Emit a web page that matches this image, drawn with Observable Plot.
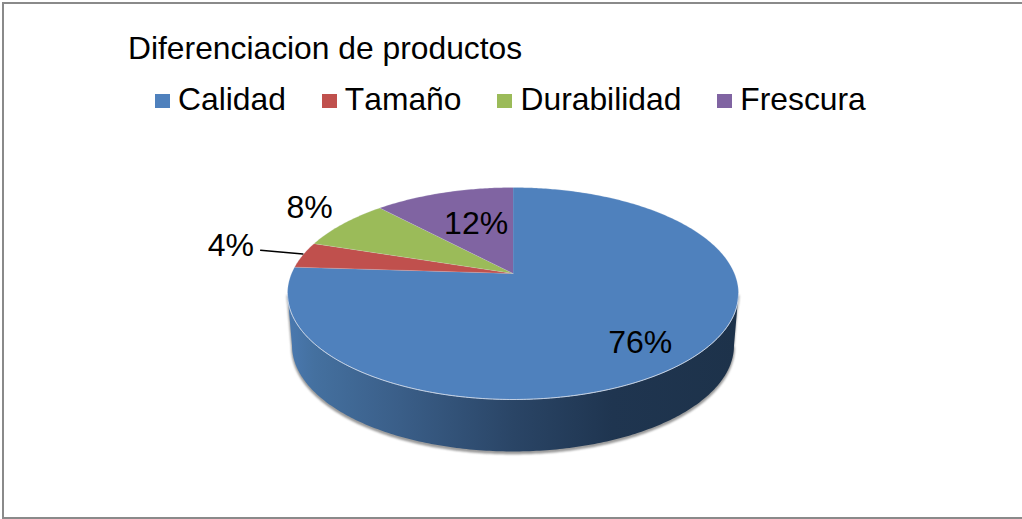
<!DOCTYPE html>
<html>
<head>
<meta charset="utf-8">
<script src="https://cdn.jsdelivr.net/npm/d3@7"></script>
<script src="https://cdn.jsdelivr.net/npm/@observablehq/plot@0.6"></script>
<style>
  html, body { margin: 0; padding: 0; background: #fff; overflow: hidden; }
  #chart { position: relative; width: 1022px; height: 519px; font-family: "Liberation Sans", Arial, sans-serif; color: #000; }
  #chart svg { position: absolute; left: 0; top: 0; }
  .title { position: absolute; left: 128px; top: 30px; font-size: 31.8px; line-height: 36px; white-space: nowrap; }
  .legend { position: absolute; left: 155px; top: 81px; display: flex; gap: 36px; font-size: 31.8px; line-height: 36px; white-space: nowrap; font-kerning: none; }
  .legend span { display: flex; align-items: center; }
  .legend i { display: block; width: 15px; height: 14px; margin-right: 8px; position: relative; top: 2px; }
  .edge { position: absolute; background: #8a8a8a; }
</style>
</head>
<body>
<div id="chart">
  <div class="edge" style="left:2px;top:2px;width:2px;height:517px"></div>
  <div class="edge" style="left:2px;top:2px;width:1020px;height:2px"></div>
  <div class="edge" style="left:2px;top:517px;width:1020px;height:2px"></div>
  <div class="title">Diferenciacion de productos</div>
  <div class="legend" id="legend"></div>
</div>
<script>
const titleText = "Diferenciacion de productos";
const categories = ["Calidad", "Tamaño", "Durabilidad", "Frescura"];
const shares = [76, 4, 8, 12];
const colors = ["#4f81bd", "#c0504d", "#9bbb59", "#8064a2"];

// Tilted-disc view: a unit circle seen in perspective, normalised so its outline spans [-1, 1] on both axes.
const tilt = -0.1887;
const widthFix = Math.sqrt(1 - tilt * tilt);
const thickness = 0.49;
const baseScale = 0.98;
const TAU = Math.PI * 2;

function disc(fraction, reach = 1) {
  const a = fraction * TAU;
  const u = reach * Math.sin(a);
  const t = -reach * Math.cos(a);
  const d = 1 + tilt * t;
  return {x: widthFix * u / d, y: (t + tilt) / d};
}
function arc(from, to, step = 0.002) {
  const n = Math.max(1, Math.ceil(Math.abs(to - from) / step));
  return d3.range(n + 1).map(i => from + (to - from) * i / n);
}
const base = f => { const p = disc(f); return {x: p.x * baseScale, y: p.y + thickness}; };

const total = d3.sum(shares);
const starts = d3.cumsum([0, ...shares]).map(v => v / total);
const wedges = categories.flatMap((category, i) => [
  {category, ...disc(0, 0)},
  ...arc(starts[i], starts[i + 1]).map(f => ({category, ...disc(f)}))
]);
const mid = i => (starts[i] + starts[i + 1]) / 2;

// The visible front of the wall runs between the two points where the rim is widest.
const rightTangent = Math.acos(tilt) / TAU;
const leftTangent = 1 - rightTangent;
const frontRim = arc(rightTangent, leftTangent).map(f => disc(f));
const wall = [...frontRim, ...arc(leftTangent, rightTangent).map(base)];

const pct = i => `${Math.round(shares[i] / total * 100)}%`;
const label = (i, reach, dx, dy) => {
  const p = disc(mid(i), reach);
  return Plot.text([{...p, t: pct(i)}], {
    x: "x", y: "y", text: "t", dx, dy,
    fontSize: 32, fill: "#000", textAnchor: "middle", lineAnchor: "middle"
  });
};
const leader = [1.21, 1.14, 1.0].map(r => disc(mid(1), r));

const defs = () => {
  const s = d3.create("svg:defs");
  const g = s.append("linearGradient").attr("id", "wallShade").attr("x1", 0).attr("x2", 1).attr("y1", 0).attr("y2", 0);
  [[0, "#4a79b0"], [0.06, "#44709f"], [0.25, "#3a5e88"], [0.5, "#2a4566"], [0.72, "#1f3550"], [1, "#1d324a"]]
    .forEach(([o, c]) => g.append("stop").attr("offset", o).attr("stop-color", c));
  return s.node();
};

const plot = Plot.plot({
  width: 1022, height: 519,
  margin: 0,
  style: {fontFamily: '"Liberation Sans", Arial, sans-serif', background: "transparent"},
  x: {axis: null, domain: [-1, 1], range: [287, 738]},
  y: {axis: null, domain: [-1, 1], range: [187, 399]},
  color: {domain: categories, range: colors, legend: false},
  marks: [
    defs,
    Plot.line(wall, {x: "x", y: "y", fill: "#777", stroke: "#777", strokeWidth: 1.5, dy: 2, fillOpacity: 0.7, strokeOpacity: 0.7, imageFilter: "blur(1.2px)"}),
    Plot.line(wall, {x: "x", y: "y", fill: "url(#wallShade)", stroke: "none"}),
    Plot.line(wedges, {x: "x", y: "y", z: "category", fill: "category", stroke: "#dfe6ee", strokeWidth: 0.5, strokeOpacity: 0.45}),
    Plot.line(frontRim, {x: "x", y: "y", stroke: "#c8d5e6", strokeWidth: 0.9}),
    Plot.line(leader, {x: "x", y: "y", dy: -1, stroke: "#000", strokeWidth: 1.3}),
    label(0, 0.72, 6, 10),
    label(1, 1.37, 2, -3),
    label(2, 1.25, 4, -5),
    label(3, 0.55, 4, -2)
  ]
});
document.getElementById("chart").appendChild(plot);

const legend = document.getElementById("legend");
categories.forEach((c, i) => {
  const item = document.createElement("span");
  const swatch = document.createElement("i");
  swatch.style.background = colors[i];
  item.append(swatch, c);
  legend.append(item);
});
document.querySelector(".title").textContent = titleText;
</script>
</body>
</html>
